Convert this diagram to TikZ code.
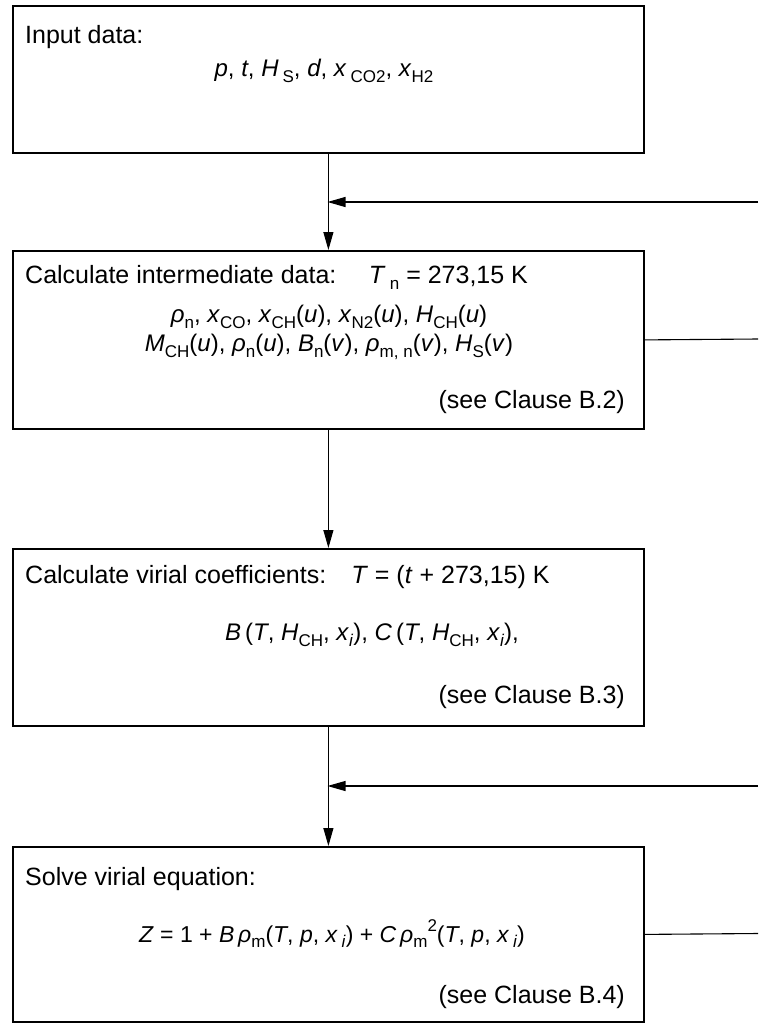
\documentclass[tikz,border=0pt]{standalone}
\usepackage{fontspec}
\setmainfont{Liberation Sans}
\usetikzlibrary{arrows.meta}
\newcommand\lo[1]{\raisebox{-0.25em}{\fontsize{17}{17}\selectfont\upshape #1}}
\newcommand\hi[1]{\raisebox{0.45em}{\fontsize{17}{17}\selectfont\upshape #1}}
\newcommand\iv[1]{\textit{#1}}
\begin{document}
\begin{tikzpicture}[x=1pt,y=-1pt,
  box/.style={draw, line width=1.8pt, minimum width=631pt, anchor=north west, inner sep=0pt},
  conn/.style={line width=1.1pt},
  arr/.style={conn, -{Triangle[length=18pt,width=10pt]}},
  lt/.style={inner sep=0pt, anchor=base west, font=\fontsize{25}{28}\selectfont},
  ct/.style={inner sep=0pt, anchor=base, font=\fontsize{24}{28}\selectfont},
  rt/.style={inner sep=0pt, anchor=base east, font=\fontsize{25}{28}\selectfont}]
\useasboundingbox (0,0) rectangle (758,1023);
% boxes
\node[box, minimum height=147pt] (b1) at (12,5) {};
\node[box, minimum height=178pt] (b2) at (12,250) {};
\node[box, minimum height=177pt] (b3) at (12,548) {};
\node[box, minimum height=175pt] (b4) at (12,846) {};
% texts
\node[lt] (t1a) at (25,43) {Input data:};
\node[ct] (t1b) at (324,76) {\iv{p}, \iv{t}, \iv{H}\,\lo{S}, \iv{d}, \iv{x}\,\lo{CO2}, \iv{x}\lo{H2}};
\node[lt] (t2a) at (25,283) {Calculate intermediate data:\hspace{1.3em}\iv{T}\,\lo{n} = 273,15 K};
\node[ct] (t2b) at (329,322) {\iv{ρ}\lo{n}, \iv{x}\lo{CO}, \iv{x}\lo{CH}(\iv{u}), \iv{x}\lo{N2}(\iv{u}), \iv{H}\lo{CH}(\iv{u})};
\node[ct] (t2c) at (329,351) {\iv{M}\lo{CH}(\iv{u}), \iv{ρ}\lo{n}(\iv{u}), \iv{B}\lo{n}(\iv{v}), \iv{ρ}\lo{m, n}(\iv{v}), \iv{H}\lo{S}(\iv{v})};
\node[rt] (t2d) at (625,408) {(see Clause B.2)};
\node[lt] (t3a) at (25,583) {Calculate virial coefficients:\hspace{1.0em}\iv{T} = (\iv{t} + 273,15) K};
\node[ct] (t3b) at (372,640) {\iv{B}\,(\iv{T}, \iv{H}\lo{CH}, \iv{x}\lo{\textit{i}}), \iv{C}\,(\iv{T}, \iv{H}\lo{CH}, \iv{x}\lo{\textit{i}}),};
\node[rt] (t3c) at (625,703) {(see Clause B.3)};
\node[lt] (t4a) at (25,885) {Solve virial equation:};
\node[ct, font=\fontsize{23}{28}\selectfont] (t4b) at (332,942) {\iv{Z} = 1 + \iv{B}\,\iv{ρ}\lo{m}(\iv{T}, \iv{p}, \iv{x}\,\lo{\textit{i}}) + \iv{C}\,\iv{ρ}\lo{m}\hi{2}(\iv{T}, \iv{p}, \iv{x}\,\lo{\textit{i}})};
\node[rt] (t4c) at (625,1003) {(see Clause B.4)};
% connectors
\coordinate (in1) at (758,202);
\coordinate (j1) at (327.5,202);
\coordinate (in2) at (758,786);
\coordinate (j2) at (327.5,786);
\coordinate (out2) at (758,339);
\coordinate (out4) at (758,933.5);
\draw[arr] (b1.south) -- (b2.north);
\draw[arr] (in1) -- (j1);
\draw[arr] (b2.south) -- (b3.north);
\draw[arr] (b3.south) -- (b4.north);
\draw[arr] (in2) -- (j2);
\draw[conn] (b2.east) -- (out2);
\draw[conn] (b4.east) -- (out4);
\end{tikzpicture}
\end{document}
